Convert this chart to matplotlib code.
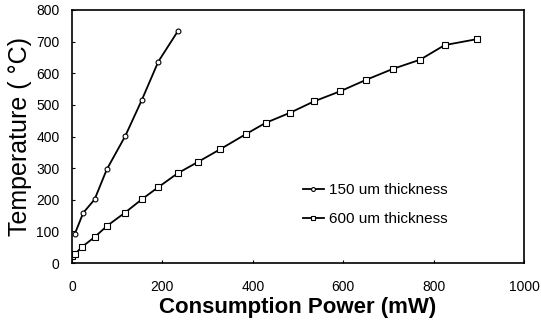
import matplotlib
matplotlib.use('Agg')
import matplotlib.pyplot as plt

# data
power_150 = [6, 25, 50, 77, 118, 154, 191, 235]
temp_150 = [91, 159, 201, 296, 402, 514, 637, 735]

power_600 = [0, 6, 23, 50, 78, 117, 154, 191, 234, 279, 328, 385, 428, 482, 535, 593, 650, 710, 770, 824, 896]
temp_600 = [22, 28, 52, 82, 118, 159, 201, 240, 284, 320, 360, 408, 443, 475, 511, 543, 579, 614, 643, 689, 708]

x_ticks = [0, 200, 400, 600, 800, 1000]
y_ticks = [0, 100, 200, 300, 400, 500, 600, 700, 800]

plt.rcParams['font.family'] = ['Liberation Sans', 'DejaVu Sans']

fig = plt.figure(figsize=(5.41, 3.33), dpi=100)
ax = fig.add_axes([0.133, 0.21, 0.836, 0.76])

ax.plot(power_150, temp_150, color='black', lw=1.3, marker='o', ms=3.5,
        mfc='white', mec='black', mew=0.8, label='150 um thickness')
ax.plot(power_600, temp_600, color='black', lw=1.3, marker='s', ms=4,
        mfc='white', mec='black', mew=0.8, label='600 um thickness')

ax.set_xlim(0, 1000)
ax.set_ylim(0, 800)
ax.set_xticks(x_ticks)
ax.set_yticks(y_ticks)
ax.tick_params(direction='in', length=2, labelsize=10, pad=9)
ax.tick_params(axis='x', pad=12)
for s in ax.spines.values():
    s.set_linewidth(1.2)

ax.set_xlabel('Consumption Power (mW)', fontsize=16, fontweight='bold', labelpad=2)
ax.set_ylabel('Temperature ( \u00b0C)', fontsize=18, labelpad=3)

ax.legend(loc='upper left', bbox_to_anchor=(0.48, 0.37), frameon=False,
          fontsize=11, handlelength=1.4, handletextpad=0.3, labelspacing=1.0,
          markerscale=0.8)

plt.savefig('out.png', dpi=100)
